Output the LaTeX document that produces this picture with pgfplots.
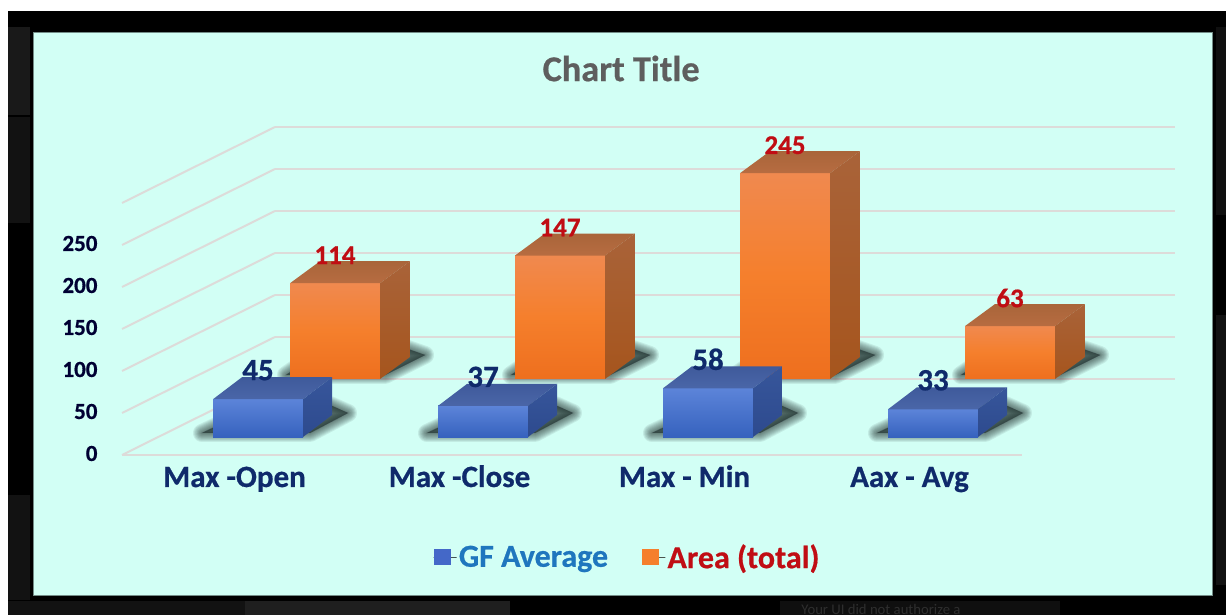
\documentclass[border=0pt]{standalone}
\usepackage{pgfplots}
\pgfplotsset{compat=1.18}
\usepackage{fontspec}
\setmainfont{Carlito}[BoldFeatures={FakeBold=0.6}]
\definecolor{panel}{HTML}{D2FFF5}
\definecolor{gridc}{HTML}{DDDBD9}
\definecolor{navy}{HTML}{0F2A6B}
\definecolor{redt}{HTML}{C00D14}
\definecolor{bluet}{HTML}{1F76BE}
\definecolor{titlec}{HTML}{5E5E5E}
\definecolor{shad}{HTML}{1C2A2A}
% cuboid: xf0 xf1 yf xb0 xb1 yb value, style prefix
\newcommand\cube[8]{%
  \addplot3[forget plot,draw=none,#8front] coordinates {(#1,#3,0)(#2,#3,0)(#2,#3,#7)(#1,#3,#7)} --cycle;
  \addplot3[forget plot,draw=none,#8top] coordinates {(#1,#3,#7)(#2,#3,#7)(#5,#6,#7)(#4,#6,#7)} --cycle;
  \addplot3[forget plot,draw=none,#8side] coordinates {(#2,#3,0)(#5,#6,0)(#5,#6,#7)(#2,#3,#7)} --cycle;
}
\newcommand\shadowlayer[2]{%
  \addplot3[forget plot,fill=shad,draw=shad,opacity=.085,line width=#1pt,line join=round] coordinates {#2} --cycle;
}
\newcommand\shadowpoly[1]{%
  \shadowlayer{18}{#1}\shadowlayer{16}{#1}\shadowlayer{14}{#1}\shadowlayer{12}{#1}%
  \shadowlayer{10}{#1}\shadowlayer{8}{#1}\shadowlayer{6}{#1}\shadowlayer{4}{#1}\shadowlayer{2}{#1}\shadowlayer{1}{#1}%
}
\pgfplotsset{
  bfront/.style={top color=bfT,bottom color=bfB},
  btop/.style={top color=btT,bottom color=btB},
  bside/.style={top color=bsT,bottom color=bsB},
  ofront/.style={top color=ofT,bottom color=ofB,middle color=ofM},
  otop/.style={top color=otT,bottom color=otB},
  oside/.style={top color=osT,bottom color=osB},
}
\definecolor{bfT}{HTML}{5C84D9}\definecolor{bfB}{HTML}{3662BE}
\definecolor{btT}{HTML}{3F5A9B}\definecolor{btB}{HTML}{4A66A8}
\definecolor{bsT}{HTML}{37569B}\definecolor{bsB}{HTML}{2D4A8E}
\definecolor{ofT}{HTML}{F0894F}\definecolor{ofM}{HTML}{F57F2C}\definecolor{ofB}{HTML}{EE6F1E}
\definecolor{otT}{HTML}{A9653A}\definecolor{otB}{HTML}{B76C41}
\definecolor{osT}{HTML}{A96339}\definecolor{osB}{HTML}{A6551D}
\definecolor{legb}{HTML}{4468C8}
\begin{document}
\begin{tikzpicture}[x=1pt,y=1pt]
\path[use as bounding box,fill=white] (0,0) rectangle (1226,615);
\fill[black] (8,0) rectangle (1226,604);
\fill[black!90] (8,500) rectangle (30,588);
\fill[black!93] (8,392) rectangle (30,498);
\fill[black!93] (8,15) rectangle (30,120);
\fill[black!93] (8,0) rectangle (245,14);
\fill[black!88] (245,0) rectangle (510,14);
\fill[black!94] (780,0) rectangle (1060,14);
\fill[black!94] (1216,400) rectangle (1226,588);
\fill[black!93] (1216,30) rectangle (1226,300);
\node[text=black!82,font=\fontsize{14.7}{16}\selectfont,anchor=center] at (881,6) {Your UI did not authorize a};
\fill[panel,draw=black!45!panel,line width=1pt] (33.5,19) rectangle (1212,582.5);
\begin{axis}[
  at={(122pt,160pt)},anchor=origin,
  x={(225pt,0pt)},y={(153pt,76pt)},z={(0pt,0.84pt)},
  xmin=0,xmax=4,ymin=0,ymax=1,zmin=0,zmax=300,
  clip=false,
  axis line style={draw=none},
  tick style={draw=none},
  xtick={0.5,1.5,2.5,3.5},
  xticklabels={Max -Open,Max -Close,Max - Min,Aax - Avg},
  ytick=\empty,
  ztick={0,50,100,150,200,250,300},
  zticklabels={0,50,100,150,200,250,{}},
  zmajorgrids=true,
  major grid style={draw=gridc,line width=2pt},
  /pgf/number format/assume math mode=true,
  xticklabel style={font=\fontsize{31}{34}\selectfont\bfseries,text=navy,anchor=center,text height=20pt,text depth=6pt,yshift=-25pt},
  zticklabel style={font=\fontsize{23}{28}\selectfont\bfseries,text=black!80!blue,anchor=east,xshift=-21pt,yshift=1.5pt},
  title={Chart Title},
  title style={font=\fontsize{36.3}{40}\selectfont\bfseries,text=titlec,at={(axis description cs:0.474,1.16)},anchor=center},
  legend columns=2,
  legend style={draw=none,fill=none,at={(axis description cs:0.48,-0.311)},anchor=center,
    font=\fontsize{32}{36}\selectfont\bfseries,/tikz/every even column/.append style={column sep=32pt}},
  legend image code/.code={\path (0pt,0pt) rectangle (23pt,0pt);\fill[draw=none,#1] (0pt,-8pt) rectangle (17pt,8pt);},
]
\addlegendimage{fill=legb}
\addlegendentry{\textcolor{bluet}{GF Average}}
\addlegendimage{fill=ofM}
\addlegendentry{\textcolor{redt}{Area (total)}}
\addplot3[forget plot,draw=gridc,line width=2pt] coordinates {(0,0,0)(4,0,0)};
% orange row
\shadowpoly{(0.0133,1.0526,0)(0.4533,1.0526,0)(0.452,1.3158,0)(0.3004,1.4079,0)(-0.0369,1.3158,0)}
\cube{0.0667}{0.4667}{1}{0.003}{0.403}{1.2895}{114}{o}
\shadowpoly{(1.0133,1.0526,0)(1.4533,1.0526,0)(1.452,1.3158,0)(1.3004,1.4079,0)(0.9631,1.3158,0)}
\cube{1.0667}{1.4667}{1}{1.003}{1.403}{1.2895}{147}{o}
\shadowpoly{(2.0133,1.0526,0)(2.4533,1.0526,0)(2.452,1.3158,0)(2.3004,1.4079,0)(1.9631,1.3158,0)}
\cube{2.0667}{2.4667}{1}{2.003}{2.403}{1.2895}{245}{o}
\shadowpoly{(3.0133,1.0526,0)(3.4533,1.0526,0)(3.452,1.3158,0)(3.3004,1.4079,0)(2.9631,1.3158,0)}
\cube{3.0667}{3.4667}{1}{3.003}{3.403}{1.2895}{63}{o}
% blue row
\shadowpoly{(0.1587,0.2895,0)(0.6387,0.2895,0)(0.6284,0.5526,0)(0.4769,0.6579,0)(0.1667,0.5263,0)}
\cube{0.2435}{0.6435}{0.2368}{0.1755}{0.5755}{0.5263}{45}{b}
\shadowpoly{(1.1587,0.2895,0)(1.6387,0.2895,0)(1.6284,0.5526,0)(1.4769,0.6579,0)(1.1667,0.5263,0)}
\cube{1.2435}{1.6435}{0.2368}{1.1755}{1.5755}{0.5263}{37}{b}
\shadowpoly{(2.1587,0.2895,0)(2.6387,0.2895,0)(2.6284,0.5526,0)(2.4769,0.6579,0)(2.1667,0.5263,0)}
\cube{2.2435}{2.6435}{0.2368}{2.1755}{2.5755}{0.5263}{58}{b}
\shadowpoly{(3.1587,0.2895,0)(3.6387,0.2895,0)(3.6284,0.5526,0)(3.4769,0.6579,0)(3.1667,0.5263,0)}
\cube{3.2435}{3.6435}{0.2368}{3.1755}{3.5755}{0.5263}{33}{b}
% data labels
\addplot3[forget plot,only marks,mark=none,point meta=z,nodes near coords,
  every node near coord/.append style={anchor=center,yshift=28pt,font=\fontsize{27}{30}\selectfont\bfseries,text=redt}]
  coordinates {(0.2667,1,114)(1.2667,1,147)(2.2667,1,245)(3.2667,1,63)};
\addplot3[forget plot,only marks,mark=none,point meta=z,nodes near coords,
  every node near coord/.append style={anchor=center,yshift=29pt,font=\fontsize{31}{34}\selectfont\bfseries,text=navy}]
  coordinates {(0.4435,0.2368,45)(1.4435,0.2368,37)(2.4435,0.2368,58)(3.4435,0.2368,33)};
\end{axis}
\end{tikzpicture}
\end{document}
